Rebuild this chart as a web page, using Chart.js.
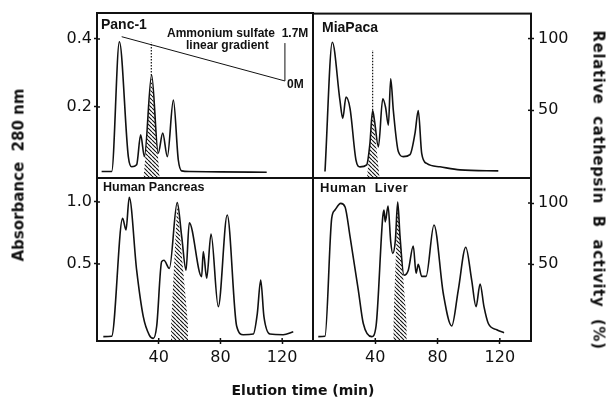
<!DOCTYPE html>
<html>
<head>
<meta charset="utf-8">
<script src="https://cdn.jsdelivr.net/npm/chart.js@4.4.1/dist/chart.umd.min.js"></script>
<style>
  html, body { margin: 0; padding: 0; background: #fff; }
  #wrap { position: relative; width: 614px; height: 399px; overflow: hidden; }
  #wrap canvas { position: absolute; left: 0; top: 0; }
  .t { position: absolute; white-space: pre; color: #111; font-weight: bold; line-height: 1; font-family: "DejaVu Sans", sans-serif; }
  .n { font-family: "Liberation Sans", Arial, sans-serif; }
  .c { transform: translate(-50%, -50%); }
</style>
</head>
<body>
<div id="wrap">
  <canvas id="panc" width="614" height="399"></canvas>
  <canvas id="mia" width="614" height="399"></canvas>
  <canvas id="hp" width="614" height="399"></canvas>
  <canvas id="hl" width="614" height="399"></canvas>

  <div class="t n" style="left:101px;top:17px;font-size:14px">Panc-1</div>
  <div class="t n" style="left:322px;top:20px;font-size:14px">MiaPaca</div>
  <div class="t n" style="left:103px;top:181px;font-size:12.5px">Human Pancreas</div>
  <div class="t n" style="left:320px;top:181px;font-size:13px;letter-spacing:0.5px">Human  Liver</div>

  <div class="t n" style="left:167px;top:27px;font-size:12px">Ammonium sulfate  1.7M</div>
  <div class="t n" style="left:186px;top:39px;font-size:12px">linear gradient</div>
  <div class="t n" style="left:287px;top:78px;font-size:12px">0M</div>

  <div class="t c" style="left:19px;top:175px;font-size:15px;transform:translate(-50%,-50%) rotate(-90deg)">Absorbance  280 nm</div>
  <div class="t c" style="left:598px;top:190px;font-size:15px;letter-spacing:0.6px;transform:translate(-50%,-50%) rotate(90deg)">Relative  cathepsin  B  activity  (%)</div>
  <div class="t c" style="left:303px;top:390px;font-size:14px">Elution time (min)</div>
</div>

<script>
// tick labels
const xTicks = [40, 80, 120];
const absTicksTop = [0.2, 0.4];
const absTicksBottom = [0.5, 1.0];
const actTicks = [50, 100];

// absorbance 280 nm (elution time in min)
const pancTime = [3, 9.5, 14.5, 20.3, 22.5, 25.7, 28.3, 30.7, 35.4, 39.7, 42.6, 45.6, 49.5, 52.7, 54.9, 60, 80, 110];
const pancAbs = [0.01, 0.01, 0.392, 0.054, 0.024, 0.03, 0.118, 0.054, 0.294, 0.064, 0.123, 0.054, 0.22, 0.044, 0.012, 0.01, 0.009, 0.008];

const miaTime = [7.7, 12.4, 17.3, 19.1, 21.2, 23.8, 27.6, 30.2, 34.5, 36.5, 38.3, 39.5, 42, 44.8, 46.6, 48.4, 49.9, 51.6, 54.8, 58, 62.3, 65.5, 67.6, 69.8, 73, 81.6, 94.4, 119];
const miaAbs = [0.01, 0.392, 0.22, 0.167, 0.23, 0.196, 0.044, 0.024, 0.03, 0.09, 0.19, 0.16, 0.083, 0.225, 0.2, 0.147, 0.284, 0.19, 0.069, 0.054, 0.06, 0.123, 0.19, 0.064, 0.034, 0.024, 0.015, 0.012];

const hpTime = [4.1, 9.5, 16.6, 18.8, 20.9, 25.7, 30, 33.9, 36.5, 38.7, 41.9, 43.4, 46.9, 52, 54.9, 57.7, 59.8, 67.8, 68.9, 71.1, 73.9, 78.6, 84.4, 90.5, 94.8, 101.3, 103.9, 106.1, 108.2, 112.1, 120.7, 127.2];
const hpAbs = [-0.086, -0.083, 0.868, 0.774, 1.038, 0.45, 0.075, -0.073, -0.1, 0, 0.519, 0.53, 0.465, 0.995, 0.72, 0.45, 0.833, 0.398, 0.6, 0.385, 0.742, 0.156, 0.895, 0, -0.07, -0.065, 0.1, 0.371, 0.075, -0.065, -0.07, -0.046];

const hlTime = [3.4, 7.7, 12, 14.1, 17.8, 20.6, 23.8, 29.1, 32.3, 37.7, 40.5, 44.8, 45.6, 46.4, 48.2, 49.9, 51.2, 52.9, 54.4, 55.9, 58.4, 61.2, 64.4, 66.2, 67.6, 69.8, 72.6, 77.7, 83.7, 89.1, 93.3, 98.1, 101.9, 104.7, 107.3, 109.8, 112.6, 118, 122.7];
const hlAbs = [-0.086, -0.083, 0.868, 0.935, 0.989, 0.96, 0.72, 0.29, 0.02, -0.086, 0, 0.88, 0.935, 0.84, 0.968, 0.68, 0.586, 0.69, 1.0, 0.72, 0.41, 0.45, 0.645, 0.425, 0.497, 0.4, 0.4, 0.815, 0.26, 0, 0.29, 0.635, 0.37, 0.156, 0.339, 0.156, 0.02, -0.03, -0.054];

// relative cathepsin B activity (%)
const pancActTime = [30, 35.4, 40.8];
const pancAct = [0, 74, 0];
const pancDotTime = [35.2, 35.2];
const pancDot = [74, 97];

const miaActTime = [34.5, 38.3, 43];
const miaAct = [0, 50, 0];
const miaDotTime = [38.3, 38.3];
const miaDot = [50, 92];

const hpActTime = [48, 52, 59];
const hpAct = [0, 100, 0];

const hlActTime = [51.6, 54.4, 60.2];
const hlAct = [0, 101, 0];

// ammonium sulfate gradient line (drawn on absorbance axis)
const gradTime = [16, 121.8, 121.8];
const gradLevel = [0.4068, 0.2765, 0.388];

const W = 614, H = 399;
const INK = "#111";

function pts(xs, ys) {
  return xs.map((x, i) => ({ x: x, y: ys[i] }));
}

function hatchPattern() {
  const c = document.createElement("canvas");
  c.width = 4;
  c.height = 4;
  const g = c.getContext("2d");
  g.strokeStyle = INK;
  g.lineWidth = 1.1;
  g.beginPath();
  [-4, 0, 4].forEach((k) => {
    g.moveTo(k, 0);
    g.lineTo(k + 4, 4);
  });
  g.stroke();
  return g.createPattern(c, "repeat");
}
const hatch = hatchPattern();

function absLine(xs, ys) {
  return {
    data: pts(xs, ys),
    borderColor: INK,
    borderWidth: 1.6,
    pointRadius: 0,
    cubicInterpolationMode: "monotone",
    fill: false,
    yAxisID: "y",
  };
}

function actArea(xs, ys) {
  return {
    data: pts(xs, ys),
    borderWidth: 0,
    borderColor: "rgba(0,0,0,0)",
    backgroundColor: hatch,
    pointRadius: 0,
    fill: "start",
    yAxisID: "y2",
  };
}

function dotted(xs, ys) {
  return {
    data: pts(xs, ys),
    borderColor: INK,
    borderWidth: 1.2,
    borderDash: [1.5, 1.5],
    pointRadius: 0,
    fill: false,
    yAxisID: "y2",
  };
}

// frame and inward half of tick marks
const framePlugin = {
  id: "frame",
  afterDraw(chart) {
    const { ctx, chartArea: a } = chart;
    ctx.save();
    ctx.strokeStyle = INK;
    ctx.lineWidth = 1.5;
    Object.values(chart.scales).forEach((s) => {
      if (s.options.display === false || !s.options.ticks.display) return;
      s.ticks.forEach((t) => {
        const p = s.getPixelForValue(t.value);
        ctx.beginPath();
        if (s.axis === "x") {
          ctx.moveTo(p, a.bottom);
          ctx.lineTo(p, a.bottom - 3);
        } else if (s.position === "left") {
          ctx.moveTo(a.left, p);
          ctx.lineTo(a.left + 3, p);
        } else {
          ctx.moveTo(a.right, p);
          ctx.lineTo(a.right - 3, p);
        }
        ctx.stroke();
      });
    });
    ctx.lineWidth = 2;
    ctx.strokeRect(a.left, a.top, a.right - a.left, a.bottom - a.top);
    ctx.restore();
  },
};

const tickFont = { family: "DejaVu Sans", size: 16 };

function panel(id, box, cfg) {
  const isRight = box.left > 200;
  const tickGrid = (show) => ({
    display: show,
    drawOnChartArea: false,
    drawTicks: true,
    tickLength: 3,
    tickWidth: 1.5,
    tickColor: INK,
  });
  new Chart(document.getElementById(id), {
    type: "line",
    data: { datasets: cfg.datasets },
    options: {
      responsive: false,
      animation: false,
      events: [],
      layout: {
        padding: { left: 0, top: box.top, right: isRight ? 0 : W - box.right, bottom: 0 },
      },
      plugins: { legend: { display: false }, tooltip: { enabled: false } },
      scales: {
        x: {
          type: "linear",
          position: "bottom",
          min: 0,
          max: 140,
          afterFit: (s) => { s.height = H - box.bottom; },
          afterBuildTicks: (s) => { s.ticks = xTicks.map((v) => ({ value: v })); },
          grid: tickGrid(cfg.showX),
          border: { display: false },
          ticks: {
            display: cfg.showX,
            font: tickFont,
            color: INK,
            padding: 4,
            maxRotation: 0,
            autoSkip: false,
          },
        },
        y: {
          type: "linear",
          position: "left",
          min: cfg.yMin,
          max: cfg.yMax,
          afterFit: (s) => { s.width = box.left; },
          afterBuildTicks: (s) => {
            s.ticks = isRight ? [] : cfg.yTicks.map((v) => ({ value: v }));
          },
          grid: tickGrid(!isRight),
          border: { display: false },
          ticks: {
            display: !isRight,
            font: tickFont,
            color: INK,
            padding: 2,
            callback: (v) => v.toFixed(1),
          },
        },
        y2: {
          type: "linear",
          position: "right",
          display: isRight,
          min: cfg.y2Min,
          max: cfg.y2Max,
          afterFit: (s) => { s.width = isRight ? W - box.right : 0; },
          afterBuildTicks: (s) => { s.ticks = actTicks.map((v) => ({ value: v })); },
          grid: tickGrid(isRight),
          border: { display: false },
          ticks: { display: isRight, font: tickFont, color: INK, padding: 4 },
        },
      },
    },
    plugins: [framePlugin],
  });
}

const topRange = { yMin: -0.009, yMax: 0.4765, y2Min: 2.8, y2Max: 117.4 };
const botRange = { yMin: -0.121, yMax: 1.1935, y2Min: -13.1, y2Max: 120.5 };

panel("panc", { left: 97, top: 13, right: 313, bottom: 178 }, Object.assign({
  showX: false,
  yTicks: absTicksTop,
  datasets: [
    absLine(pancTime, pancAbs),
    Object.assign(absLine(gradTime, gradLevel), { borderWidth: 1, cubicInterpolationMode: "default", tension: 0 }),
    dotted(pancDotTime, pancDot),
    actArea(pancActTime, pancAct),
  ],
}, topRange));

panel("mia", { left: 313, top: 13, right: 531, bottom: 178 }, Object.assign({
  showX: false,
  yTicks: absTicksTop,
  datasets: [
    absLine(miaTime, miaAbs),
    dotted(miaDotTime, miaDot),
    actArea(miaActTime, miaAct),
  ],
}, topRange));

panel("hp", { left: 97, top: 178, right: 313, bottom: 341 }, Object.assign({
  showX: true,
  yTicks: absTicksBottom,
  datasets: [
    absLine(hpTime, hpAbs),
    actArea(hpActTime, hpAct),
  ],
}, botRange));

panel("hl", { left: 313, top: 178, right: 531, bottom: 341 }, Object.assign({
  showX: true,
  yTicks: absTicksBottom,
  datasets: [
    absLine(hlTime, hlAbs),
    actArea(hlActTime, hlAct),
  ],
}, botRange));
</script>
</body>
</html>
